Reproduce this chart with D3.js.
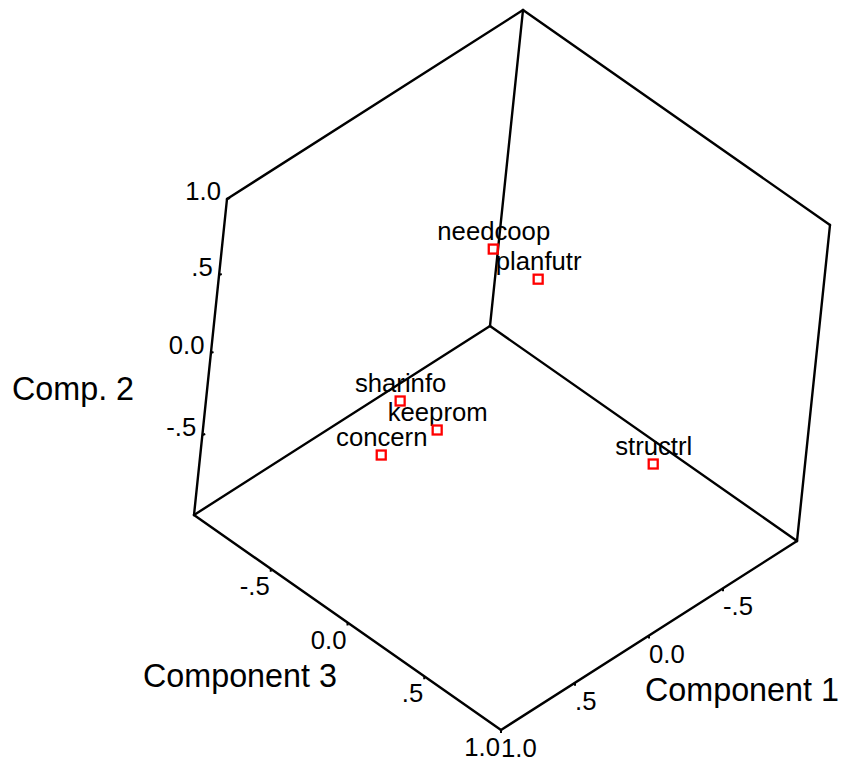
<!DOCTYPE html>
<html>
<head>
<meta charset="utf-8">
<script src="https://cdn.jsdelivr.net/npm/d3@7"></script>
<style>
  body { margin: 0; background: #fff; }
  text { font-family: "Liberation Sans", Arial, sans-serif; fill: #000; }
</style>
</head>
<body>
<svg id="drawing_region"></svg>
<script>
// loadings
const variables = ["needcoop", "planfutr", "sharinfo", "keeprom", "concern", "structrl"];
const comp1 = [-0.03, -0.123, 0.638, 0.482, 0.806, -0.195];
const comp2 = [0.584, 0.48, 0.076, -0.121, -0.121, -0.217];
const comp3 = [-0.217, -0.003, -0.125, -0.013, -0.065, 0.752];

const tick_values = [-0.5, 0, 0.5, 1];
const tick_labels = ["-.5", "0.0", ".5", "1.0"];

const width = 843, height = 767;

const svg = d3.select('#drawing_region')
    .attr('width', width)
    .attr('height', height);

// oblique projection, the front corner of the cube is c1=1, c2=-1, c3=1
const x1 = d3.scaleLinear().domain([1, -1]).range([0, 296]);
const y1 = d3.scaleLinear().domain([1, -1]).range([0, -189]);
const x2 = d3.scaleLinear().domain([-1, 1]).range([0, 33]);
// the vertical axis is not quite even in the picture
const y2 = d3.scaleLinear().domain([-1, -0.5, 0, 0.5, 1]).range([0, -80, -162, -240, -316]);
const x3 = d3.scaleLinear().domain([1, -1]).range([0, -307]);
const y3 = d3.scaleLinear().domain([1, -1]).range([0, -215]);

const px = (a, b, c) => 501 + x1(a) + x2(b) + x3(c);
const py = (a, b, c) => 730 + y1(a) + y2(b) + y3(c);

// cube edges as [c1, c2, c3] pairs
const edges = [
    [[1, -1, 1], [-1, -1, 1]],
    [[1, -1, 1], [1, -1, -1]],
    [[-1, -1, 1], [-1, -1, -1]],
    [[1, -1, -1], [-1, -1, -1]],
    [[1, -1, -1], [1, 1, -1]],
    [[-1, -1, -1], [-1, 1, -1]],
    [[-1, -1, 1], [-1, 1, 1]],
    [[1, 1, -1], [-1, 1, -1]],
    [[-1, 1, -1], [-1, 1, 1]]
];

svg.append('g').selectAll('line')
    .data(edges)
    .join('line')
    .attr('x1', d => px(...d[0]))
    .attr('y1', d => py(...d[0]))
    .attr('x2', d => px(...d[1]))
    .attr('y2', d => py(...d[1]))
    .attr('stroke', '#000')
    .attr('stroke-width', 2.4)
    .attr('stroke-linecap', 'round');

// one entry per axis: where a tick sits, its little mark and its label offset
const axes = [
    { at: v => [v, -1, 1], tdx: 0, tdy: 3, anchor: 'start', dx: 0, dy: 27 },
    { at: v => [1, -1, v], tdx: 0, tdy: 3, anchor: 'end', dx: -1, dy: 26 },
    { at: v => [1, v, -1], tdx: 3, tdy: -1, anchor: 'end', dx: -6, dy: 1 }
];

axes.forEach(axis => {
    const g = svg.append('g');
    g.selectAll('line')
        .data(tick_values)
        .join('line')
        .attr('x1', d => px(...axis.at(d)))
        .attr('y1', d => py(...axis.at(d)))
        .attr('x2', d => px(...axis.at(d)) + axis.tdx)
        .attr('y2', d => py(...axis.at(d)) + axis.tdy)
        .attr('stroke', '#000')
        .attr('stroke-width', 2);
    g.selectAll('text')
        .data(tick_values)
        .join('text')
        .attr('x', d => px(...axis.at(d)) + axis.dx)
        .attr('y', d => py(...axis.at(d)) + axis.dy)
        .attr('text-anchor', axis.anchor)
        .attr('font-size', '25.7px')
        .text((d, i) => tick_labels[i]);
});

// axis titles
const titles = [
    { label: "Comp. 2", x: 12, y: 400 },
    { label: "Component 3", x: 143, y: 687 },
    { label: "Component 1", x: 645, y: 701 }
];

svg.append('g').selectAll('text')
    .data(titles)
    .join('text')
    .attr('x', d => d.x)
    .attr('y', d => d.y)
    .attr('font-size', '32.3px')
    .text(d => d.label);

// variable labels and markers
svg.append('g').selectAll('text')
    .data(variables)
    .join('text')
    .attr('x', (d, i) => px(comp1[i], comp2[i], comp3[i]) + 1)
    .attr('y', (d, i) => py(comp1[i], comp2[i], comp3[i]) - 9)
    .attr('text-anchor', 'middle')
    .attr('font-size', '25.7px')
    .text(d => d);

svg.append('g').selectAll('rect')
    .data(variables)
    .join('rect')
    .attr('x', (d, i) => px(comp1[i], comp2[i], comp3[i]) - 4)
    .attr('y', (d, i) => py(comp1[i], comp2[i], comp3[i]) - 4.5)
    .attr('width', 9)
    .attr('height', 9)
    .attr('fill', 'none')
    .attr('stroke', '#f00')
    .attr('stroke-width', 2.3);
</script>
</body>
</html>
